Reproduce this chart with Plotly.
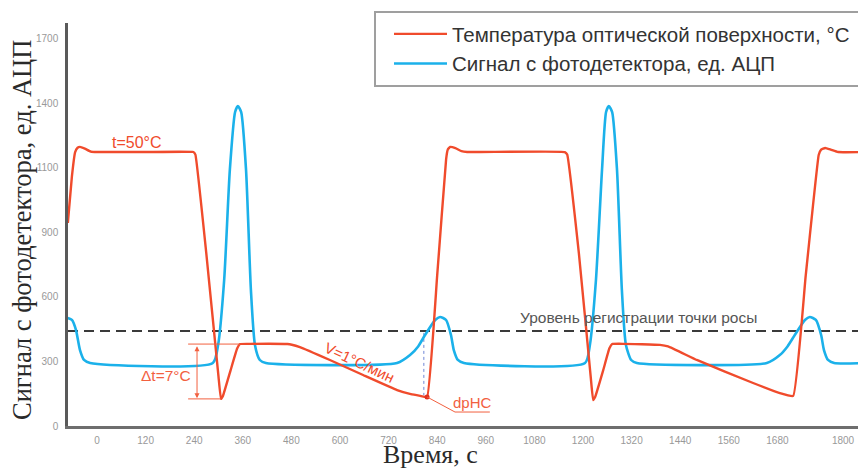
import plotly.graph_objects as go

# ---------------- data ----------------
# time axis, s
temp_t = [-72, -62, -54, -48, -42, -30, -15, 0, 120, 238, 243, 270, 300, 306, 311, 330, 346, 353,
          380, 470, 481, 501, 575, 657, 741, 775, 798, 815,
          840, 862, 866, 872, 885, 900, 914, 1155, 1161, 1190, 1219, 1225, 1230, 1250, 1265, 1272,
          1300, 1390, 1410, 1481, 1620, 1686, 1719,
          1750, 1782, 1788, 1798, 1812, 1830, 1899]
temp_v = [944, 1160, 1274, 1294, 1298, 1290, 1276, 1274, 1274, 1274, 1262, 800, 230, 126, 140, 260, 360, 381,
          382, 381, 378, 367, 307, 237, 167, 148, 140, 135,
          700, 1240, 1285, 1298, 1292, 1278, 1274, 1274, 1262, 800, 230, 121, 135, 260, 360, 381,
          382, 377, 370, 307, 200, 153, 140,
          700, 1260, 1285, 1293, 1285, 1274, 1274]

sig_t = [-72, -62, -52, -42, -32, -17, 286, 299, 314, 328, 341, 348, 356, 368, 380, 390, 402, 417,
         741, 773, 793, 810, 835, 847, 862, 874, 881, 891, 906,
         1205, 1217, 1232, 1247, 1257, 1264, 1272, 1284, 1296, 1306, 1319, 1333,
         1654, 1686, 1705, 1723, 1748, 1760, 1775, 1788, 1795, 1805, 1820, 1899]
sig_v = [502, 493, 447, 353, 307, 293, 293, 377, 679, 1191, 1460, 1488, 1460, 1191, 633, 377, 307, 293,
         293, 330, 370, 423, 493, 507, 493, 423, 353, 307, 293,
         293, 377, 679, 1191, 1460, 1488, 1460, 1191, 633, 377, 307, 293,
         293, 330, 370, 423, 493, 507, 493, 423, 353, 307, 293, 293]

dew_level = 442              # dashed threshold level
dt_top, dt_bottom = 381, 126  # Δt markers
dp_t, dp_v = 815, 135         # dew point mark
dp_proj_t, dp_proj_top = 807, 433

x_tickvals = [0, 120, 240, 360, 480, 600, 720, 840, 960, 1080, 1200, 1320, 1440, 1560, 1680, 1842]
x_ticktext = ["0", "120", "240", "360", "480", "600", "720", "840", "960", "1080", "1200", "1320",
              "1440", "1560", "1680", "1800"]
y_tickvals = [0, 300, 600, 900, 1200, 1500, 1800]
y_ticktext = ["0", "300", "600", "900", "1100", "1400", "1700"]

names = ["Температура оптической поверхности, °C", "Сигнал с фотодетектора, ед. АЦП"]

RED = "#F04B2C"
BLUE = "#1BB1EA"
ANN = "#F2603F"
SANS = "Liberation Sans, Arial"
SERIF = "Liberation Serif, Times New Roman"

XR = [-71.6, 1898.8]
YR = [0, 1874]

# page has an 8px body margin: plot area on screen spans x 68..866, y 23..426
def px_x(px):
    return (px - 68) / 798

def px_y(py):
    return (426 - py) / 403

fig = go.Figure()

fig.add_trace(go.Scatter(x=XR, y=[dew_level, dew_level], mode="lines",
                         line=dict(color="#3a3a3a", width=2, dash="10px,6px"),
                         showlegend=False, hoverinfo="skip"))
fig.add_trace(go.Scatter(x=[dp_proj_t, dp_proj_t], y=[dp_proj_top, dp_v + 8], mode="lines",
                         line=dict(color="#6f86d6", width=1, dash="3px,3px"),
                         showlegend=False, hoverinfo="skip"))
fig.add_trace(go.Scatter(x=sig_t, y=sig_v, mode="lines", name=names[1],
                         line=dict(color=BLUE, width=2.6, shape="spline", smoothing=0.6),
                         legendgroup="b", legendrank=2))
fig.add_trace(go.Scatter(x=temp_t, y=temp_v, mode="lines", name=names[0],
                         line=dict(color=RED, width=2.4, shape="spline", smoothing=0.3),
                         legendgroup="a", legendrank=1))
fig.add_trace(go.Scatter(x=[dp_t], y=[dp_v], mode="markers",
                         marker=dict(color="#E0301E", size=5),
                         showlegend=False, hoverinfo="skip"))

shapes = []
# legend frame (extends past the right edge like the original)
shapes.append(dict(type="rect", xref="paper", yref="paper",
                   x0=px_x(375), x1=px_x(880), y0=px_y(86), y1=px_y(12),
                   line=dict(color="#9f9f9f", width=2), fillcolor="rgba(0,0,0,0)"))
# Δt horizontal markers
shapes.append(dict(type="line", xref="x", yref="y", x0=225, x1=353, y0=dt_top, y1=dt_top,
                   line=dict(color=ANN, width=1)))
shapes.append(dict(type="line", xref="x", yref="y", x0=225, x1=306, y0=dt_bottom, y1=dt_bottom,
                   line=dict(color=ANN, width=1)))
# dpHC leader line
shapes.append(dict(type="path", xref="x", yref="y",
                   path=f"M {dp_t},{dp_v} L 884,65 L 970,65",
                   line=dict(color=ANN, width=1)))

annotations = []
# Δt double arrow
annotations.append(dict(x=247, y=dt_bottom + 3, ax=247, ay=dt_top - 3, xref="x", yref="y",
                        axref="x", ayref="y", showarrow=True, arrowhead=2, arrowside="end+start",
                        arrowsize=1, arrowwidth=1, arrowcolor=ANN, text=""))
annotations.append(dict(x=171, y=237, xref="x", yref="y", text="Δt=7°C", showarrow=False,
                        font=dict(color=ANN, size=15.5, family=SANS)))
annotations.append(dict(x=99, y=1318, xref="x", yref="y", text="t=50°C", showarrow=False,
                        font=dict(color=RED, size=16, family=SANS)))
annotations.append(dict(x=649, y=296, xref="x", yref="y", text="V=1°C/мин", showarrow=False,
                        textangle=25,
                        font=dict(color=RED, size=15, family=SANS)))
annotations.append(dict(x=926, y=110, xref="x", yref="y", text="dpHC", showarrow=False,
                        font=dict(color=ANN, size=15, family=SANS)))
annotations.append(dict(x=1338, y=505, xref="x", yref="y", text="Уровень регистрации точки росы",
                        showarrow=False,
                        font=dict(color="#555555", size=15.5, family=SANS)))
# axis titles
annotations.append(dict(x=px_x(22), y=px_y(230), xref="paper", yref="paper",
                        xanchor="center", yanchor="middle",
                        text="Сигнал с фотодетектора, ед. АЦП", textangle=-90, showarrow=False,
                        font=dict(color="#2a2a2a", size=26.5, family=SERIF)))
annotations.append(dict(x=px_x(430), y=px_y(455), xref="paper", yref="paper",
                        xanchor="center", yanchor="middle",
                        text="Время, с", showarrow=False,
                        font=dict(color="#2a2a2a", size=26, family=SERIF)))

fig.update_layout(
    width=858, height=461,
    margin=dict(l=60, r=0, t=15, b=43, autoexpand=False),
    paper_bgcolor="white", plot_bgcolor="white",
    font=dict(family=SANS, color="#333333"),
    showlegend=True,
    legend=dict(x=px_x(389), y=px_y(14),
                xanchor="left", yanchor="top", bgcolor="rgba(0,0,0,0)", borderwidth=0,
                font=dict(size=20.5, color="#333333", family=SANS),
                traceorder="grouped", tracegroupgap=0, itemwidth=53),
    shapes=shapes, annotations=annotations,
    xaxis=dict(range=XR, showgrid=False, zeroline=False, showline=True, linecolor="#6e6e6e",
               linewidth=3, tickvals=x_tickvals, ticktext=x_ticktext, ticks="outside",
               ticklen=3, tickcolor="rgba(0,0,0,0)",
               tickfont=dict(size=10, color="#999999")),
    yaxis=dict(range=YR, showgrid=False, zeroline=False, showline=True, linecolor="#5a5a5a",
               linewidth=2.5, tickvals=y_tickvals, ticktext=y_ticktext, ticks="outside",
               ticklen=5, tickcolor="rgba(0,0,0,0)",
               tickfont=dict(size=10, color="#999999")),
)

fig.write_html("out.html")
